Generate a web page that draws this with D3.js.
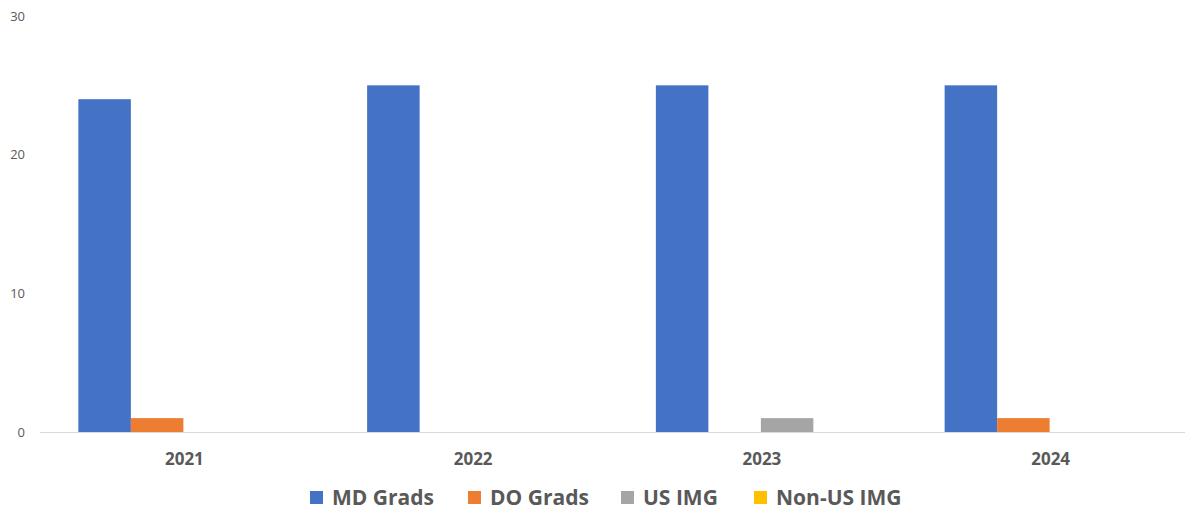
<!DOCTYPE html>
<html><head><meta charset="utf-8">
<script src="https://cdn.jsdelivr.net/npm/d3@7"></script>
<style>body{margin:0;background:#fff}svg{display:block}</style>
</head><body>
<svg id="c" width="1185" height="513"></svg>
<script>
const categories = ["2021","2022","2023","2024"];
const seriesNames = ["MD Grads","DO Grads","US IMG","Non-US IMG"];
const mdGrads = [24,25,25,25];
const doGrads = [1,0,0,1];
const usImg = [0,0,1,0];
const nonUsImg = [0,0,0,0];
const yTicks = [0,10,20,30];
const colors = ["#4472C4","#ED7D31","#A5A5A5","#FFC000"];

const values = [mdGrads, doGrads, usImg, nonUsImg];
const svg = d3.select("#c");
const x = d3.scaleBand().domain(categories).range([39,1194]).paddingInner(0).paddingOuter(0);
// bar width with 150% gap: group = 4w, gap = 1.5w => w = band/5.5
const w = x.bandwidth()/5.5;
const xInner = d3.scaleBand().domain(seriesNames).range([0.75*w, 0.75*w + 4*w]);
const y = d3.scaleLinear().domain([0,30]).range([432,16]);

// bars
seriesNames.forEach((s,si)=>{
  svg.append("g").selectAll("rect").data(categories).join("rect")
    .attr("x", c=>x(c)+xInner(s))
    .attr("width", xInner.bandwidth())
    .attr("y", (c,i)=>y(values[si][i]))
    .attr("height", (c,i)=>y(0)-y(values[si][i]))
    .attr("fill", colors[si]);
});

// baseline
svg.append("line").attr("x1",40).attr("x2",1185).attr("y1",y(0)+0.5).attr("y2",y(0)+0.5)
  .attr("stroke","#d9d9d9").attr("stroke-width",1);

// y axis
const yAxis = d3.axisLeft(y).tickValues(yTicks).tickSize(0).tickPadding(0);
const gy = svg.append("g").attr("transform","translate(25,0)").call(yAxis);
gy.select(".domain").remove();
gy.selectAll("text").attr("fill","#595959").style("font-family","'Open Sans', sans-serif").style("font-size","13px");

// x axis
const xAxis = d3.axisBottom(x).tickSize(0).tickPadding(0);
const gx = svg.append("g").attr("transform","translate(1,453)").call(xAxis);
gx.select(".domain").remove();
gx.selectAll("text").attr("fill","#595959").style("font-family","'Open Sans', sans-serif").style("font-size","17px").style("font-weight","bold");

// legend
const legX = [310,468,621,754];
const lg = svg.append("g");
seriesNames.forEach((s,i)=>{
  lg.append("rect").attr("x",legX[i]).attr("y",491).attr("width",13).attr("height",13).attr("fill",colors[i]);
  lg.append("text").attr("x",legX[i]+22).attr("y",498).attr("dy","0.35em")
    .attr("fill","#595959").style("font-family","'Open Sans', sans-serif").style("font-size","21px").style("font-weight","bold").text(s);
});
</script>
</body></html>
